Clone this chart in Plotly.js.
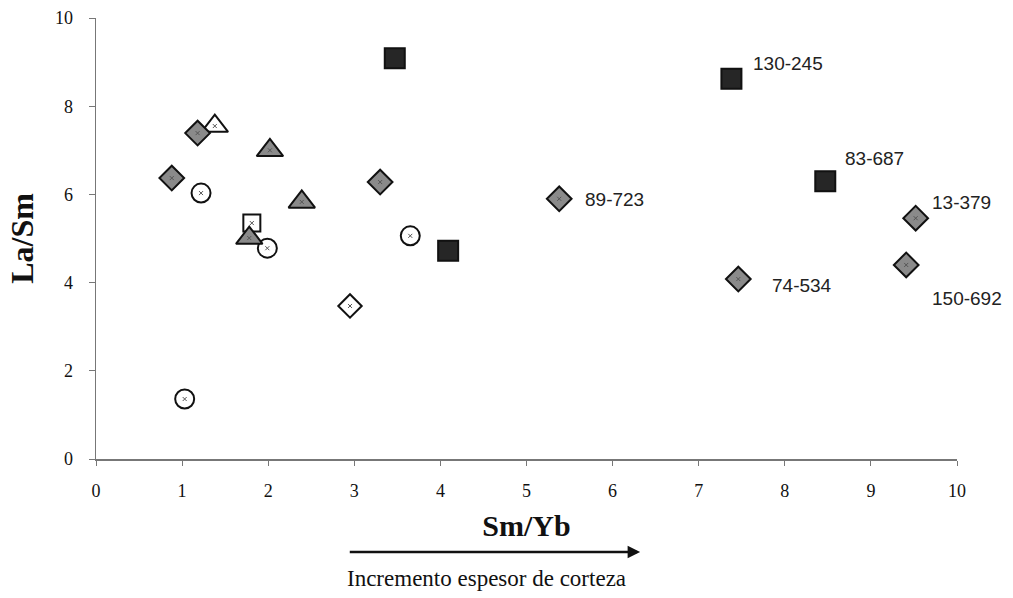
<!DOCTYPE html>
<html>
<head>
<meta charset="utf-8">
<script src="https://cdn.plot.ly/plotly-3.0.1.min.js"></script>
<style>html,body{margin:0;padding:0;background:#fff;}#chart{width:1013px;height:598px;}</style>
</head>
<body>
<div id="chart"></div>
<script>
// Gray diamonds
const grayDiamondX = [0.88, 1.18, 3.30, 5.38, 7.46, 9.52, 9.41];
const grayDiamondY = [6.37, 7.39, 6.28, 5.90, 4.08, 5.46, 4.40];
const grayDiamondLabels = ["", "", "", "89-723", "74-534", "13-379", "150-692"];
// White diamond
const whiteDiamondX = [2.95];
const whiteDiamondY = [3.47];
// Black squares
const blackSquareX = [3.47, 7.38, 8.47, 4.09];
const blackSquareY = [9.09, 8.62, 6.30, 4.72];
const blackSquareLabels = ["", "130-245", "83-687", ""];
// White square
const whiteSquareX = [1.81];
const whiteSquareY = [5.35];
// Gray triangles
const grayTriangleX = [2.02, 2.39, 1.78];
const grayTriangleY = [7.00, 5.83, 5.01];
// White triangle
const whiteTriangleX = [1.38];
const whiteTriangleY = [7.55];
// Circles
const circleX = [1.22, 1.99, 3.65, 1.03];
const circleY = [6.03, 4.78, 5.06, 1.36];

const xTicks = [0,1,2,3,4,5,6,7,8,9,10];
const yTicks = [0,2,4,6,8,10];

function mk(x, y, symbol, size, fill) {
  return {x: x, y: y, type: 'scatter', mode: 'markers', cliponaxis: false, hoverinfo: 'skip',
    marker: {symbol: symbol, size: size, color: fill, line: {color: '#111', width: 2}}};
}
function dots(x, y) {
  return {x: x, y: y, type: 'scatter', mode: 'markers', cliponaxis: false, hoverinfo: 'skip',
    marker: {symbol: 'x-thin', size: 4, line: {color: '#555', width: 1}}};
}

const traces = [
  mk(circleX, circleY, 'circle', 19, '#ffffff'),
  mk(whiteSquareX, whiteSquareY, 'square', 17, '#ffffff'),
  mk(grayTriangleX, grayTriangleY, 'triangle-up', 23, '#8a8a8a'),
  mk(whiteTriangleX, whiteTriangleY, 'triangle-up', 23, '#ffffff'),
  mk(grayDiamondX, grayDiamondY, 'diamond', 19, '#8a8a8a'),
  mk(whiteDiamondX, whiteDiamondY, 'diamond', 18, '#ffffff'),
  mk(blackSquareX, blackSquareY, 'square', 20, '#262626'),
  dots(circleX.concat(whiteSquareX, grayTriangleX, whiteTriangleX, grayDiamondX, whiteDiamondX),
       circleY.concat(whiteSquareY, grayTriangleY, whiteTriangleY, grayDiamondY, whiteDiamondY))
];

const labelOffsets = {
  "89-723": [24, -1, 'left', 'middle'],
  "74-534": [32, -6, 'left', 'middle'],
  "13-379": [14, 16, 'left', 'middle'],
  "150-692": [24, -34, 'left', 'middle'],
  "130-245": [20, 15, 'left', 'middle'],
  "83-687": [18, 23, 'left', 'middle']
};
const annotations = [];
function addLabels(xs, ys, labels) {
  labels.forEach((t, i) => {
    if (!t) return;
    const o = labelOffsets[t];
    annotations.push({x: xs[i], y: ys[i], xref: 'x', yref: 'y', text: t, showarrow: false,
      xanchor: o[2], yanchor: o[3], xshift: o[0], yshift: o[1],
      font: {family: 'Liberation Sans, Arial, sans-serif', size: 19, color: '#222'}});
  });
}
addLabels(grayDiamondX, grayDiamondY, grayDiamondLabels);
addLabels(blackSquareX, blackSquareY, blackSquareLabels);

annotations.push({x: 6.32, y: -0.211, xref: 'x', yref: 'paper', ax: 2.93, ay: -0.211,
  axref: 'x', ayref: 'paper', showarrow: true, arrowhead: 2, arrowsize: 1, arrowwidth: 2.5,
  arrowcolor: '#111', text: ''});
annotations.push({x: 4.54, y: -0.27, xref: 'x', yref: 'paper', text: 'Incremento espesor de corteza',
  showarrow: false, xanchor: 'center', yanchor: 'middle',
  font: {family: 'Liberation Serif, Times New Roman, serif', size: 23, color: '#111'}});

const layout = {
  width: 1013, height: 598,
  margin: {l: 96, r: 56, t: 18, b: 139},
  paper_bgcolor: '#fff', plot_bgcolor: '#fff',
  showlegend: false,
  xaxis: {range: [0, 10], tickvals: xTicks, ticktext: xTicks.map(String), showgrid: false, zeroline: false,
    showline: true, linecolor: '#777', linewidth: 1.5, ticks: 'outside', ticklen: 5, tickcolor: '#777',
    ticklabelstandoff: 10,
    tickfont: {family: 'Liberation Serif, Times New Roman, serif', size: 18, color: '#111'},
    title: {text: '<b>Sm/Yb</b>', standoff: 15, font: {family: 'Liberation Serif, Times New Roman, serif', size: 30, color: '#111'}}},
  yaxis: {range: [0, 10], tickvals: yTicks, ticktext: yTicks.map(String), showgrid: false, zeroline: false,
    showline: true, linecolor: '#777', linewidth: 1.5, ticks: 'outside', ticklen: 6, tickcolor: '#777',
    ticklabelstandoff: 12,
    tickfont: {family: 'Liberation Serif, Times New Roman, serif', size: 18, color: '#111'},
    title: {text: '<b>La/Sm</b>', standoff: 11, font: {family: 'Liberation Serif, Times New Roman, serif', size: 32, color: '#111'}}},
  annotations: annotations
};

Plotly.newPlot('chart', traces, layout, {staticPlot: true, displayModeBar: false});
</script>
</body>
</html>
